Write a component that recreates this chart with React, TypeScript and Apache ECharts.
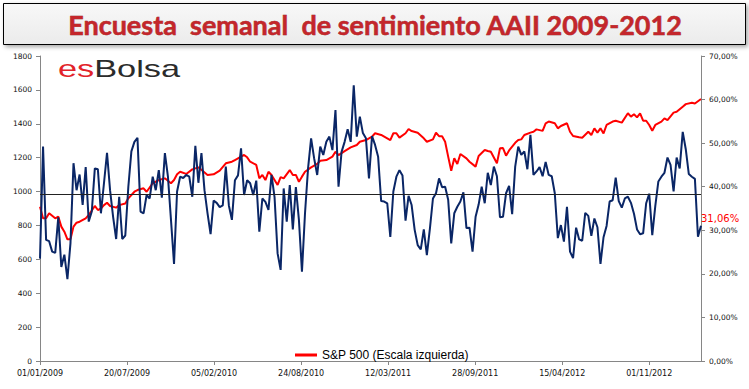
import React, { useEffect, useRef } from "react";
import * as echarts from "echarts";

// Weekly AAII bullish sentiment (%), one value per week starting 01/01/2009
const bullish: number[] = [
  23.5, 49.2, 27.8, 27.5, 25.1, 24.8, 33.0, 21.6, 24.4, 18.8,
  27.0, 45.4, 39.2, 42.8, 35.8, 44.5, 32.0, 34.3, 44.2, 44.0,
  33.9, 40.8, 47.8, 39.2, 33.1, 28.0, 37.7, 28.0, 28.8, 40.0,
  48.1, 50.3, 51.2, 34.3, 33.9, 38.1, 37.3, 42.3, 39.2, 43.8,
  37.5, 47.7, 42.3, 32.4, 22.3, 38.9, 42.3, 42.0, 42.7, 42.3,
  37.7, 49.4, 40.9, 47.7, 39.2, 33.9, 29.1, 36.8, 36.3, 35.3,
  35.7, 44.6, 35.7, 32.4, 41.5, 42.6, 48.8, 38.1, 41.5, 40.8,
  38.1, 41.4, 29.7, 37.3, 36.5, 34.7, 42.7, 37.6, 24.7, 20.9,
  39.6, 32.0, 40.4, 30.2, 39.9, 32.4, 20.5, 33.9, 44.2, 51.1,
  46.5, 42.7, 49.2, 47.3, 50.3, 51.5, 48.4, 57.6, 40.0, 48.0,
  50.3, 53.2, 50.3, 63.3, 51.5, 56.1, 52.3, 51.1, 41.9, 51.6,
  49.6, 46.9, 36.7, 36.6, 36.2, 28.5, 38.9, 42.3, 43.8, 42.6,
  32.2, 37.9, 35.8, 30.1, 26.6, 25.6, 30.2, 24.3, 30.4, 37.3,
  38.5, 41.9, 39.9, 40.0, 37.0, 27.0, 33.9, 35.4, 36.6, 38.7,
  30.5, 30.6, 25.1, 33.1, 35.9, 40.0, 36.2, 43.2, 40.4, 44.6,
  42.4, 33.0, 33.1, 38.5, 40.2, 33.7, 44.6, 49.2, 47.3, 48.1,
  44.0, 51.9, 42.7, 43.5, 44.5, 42.4, 45.7, 42.7, 42.4, 38.5,
  28.2, 31.2, 27.4, 35.4, 25.1, 23.6, 30.6, 27.9, 27.6, 34.0,
  33.3, 28.7, 32.7, 30.7, 22.3, 28.4, 31.0, 36.6, 36.9, 42.1,
  36.7, 35.2, 37.3, 37.7, 36.3, 33.8, 30.2, 29.1, 29.3, 36.2,
  38.4, 28.9, 35.6, 41.2, 42.3, 43.2, 46.7, 45.0, 38.9, 46.7,
  44.2, 52.6, 48.6, 42.9, 42.3, 41.8, 28.5, 31.06,
];

// S&P 500 readings: week number (since 01/01/2009) and index level
const spxWeeks: number[] = [
  0, 1, 2, 3, 5, 6, 7, 8, 9, 10, 11, 12, 13, 15, 16, 18, 19, 20, 21, 22,
  23, 25, 26, 28, 29, 31, 32, 34, 35, 37, 39, 41, 43, 44, 45, 46, 48, 50, 52, 55,
  57, 59, 61, 63, 64, 67, 68, 69, 71, 72, 73, 74, 75, 76, 78, 79, 80, 82, 83, 84,
  85, 86, 87, 89, 91, 92, 94, 96, 97, 98, 100, 102, 104, 105, 107, 109, 110, 112, 113, 115,
  116, 117, 118, 120, 121, 122, 124, 126, 127, 129, 130, 131, 132, 133, 134, 135, 136, 137, 138, 140,
  141, 143, 144, 146, 147, 148, 150, 151, 152, 153, 154, 156, 157, 158, 159, 161, 162, 163, 165, 166,
  167, 169, 170, 171, 173, 174, 175, 177, 178, 180, 181, 182, 183, 184, 185, 186, 188, 189, 191, 193,
  194, 195, 196, 197, 198, 199, 200, 201, 202, 204, 205, 206, 208, 209, 211, 212, 214, 215, 217,
];
const spxValues: number[] = [
  911, 842, 842, 872, 842, 852, 793, 763, 718, 718, 793, 816, 822, 842, 862, 915, 891, 900, 920, 934,
  915, 905, 920, 930, 960, 999, 1009, 1019, 999, 1049, 1068, 1078, 1049, 1068, 1102, 1117, 1104, 1131, 1143, 1098,
  1102, 1123, 1167, 1176, 1186, 1216, 1202, 1176, 1157, 1078, 1098, 1068, 1117, 1098, 1039, 1085, 1078, 1127, 1098, 1098,
  1058, 1088, 1117, 1143, 1163, 1182, 1186, 1206, 1235, 1215, 1239, 1261, 1275, 1294, 1304, 1324, 1344, 1334, 1324, 1304,
  1344, 1344, 1318, 1344, 1369, 1357, 1347, 1314, 1294, 1308, 1347, 1327, 1327, 1294, 1206, 1123, 1196, 1163, 1222, 1196,
  1176, 1147, 1210, 1245, 1239, 1235, 1167, 1255, 1257, 1212, 1243, 1288, 1304, 1308, 1334, 1348, 1353, 1367, 1358, 1403,
  1413, 1403, 1373, 1387, 1403, 1353, 1328, 1320, 1318, 1353, 1334, 1373, 1348, 1373, 1343, 1393, 1413, 1418, 1407, 1462,
  1442, 1456, 1438, 1462, 1418, 1418, 1393, 1359, 1393, 1413, 1432, 1422, 1466, 1471, 1501, 1516, 1524, 1520, 1546,
];

const bullAverage = 38.2;
const titleText = "Encuesta  semanal  de sentimiento AAII 2009-2012";
const spxName = "S&P 500 (Escala izquierda)";
const bullName = "Sentimiento alcista";
const startUTC = Date.UTC(2009, 0, 1);
const lastDay = (bullish.length - 1) * 7;

function fmtDate(days: number): string {
  const d = new Date(startUTC + days * 86400000);
  const dd = String(d.getUTCDate()).padStart(2, "0");
  const mm = String(d.getUTCMonth() + 1).padStart(2, "0");
  return `${dd}/${mm}/${d.getUTCFullYear()}`;
}

const pct = (v: number) => v.toFixed(2).replace(".", ",") + "%";

export default function App() {
  const ref = useRef<HTMLDivElement>(null);
  useEffect(() => {
    if (!ref.current) return;
    const chart = echarts.init(ref.current, undefined, { renderer: "svg" });
    const bullData = bullish.map((v, i) => [i * 7, v]);
    const spxData = spxWeeks.map((w, i) => [w * 7, spxValues[i]]);
    const axisColor = "#868686";
    const labelBase = { color: "#111", fontFamily: "DejaVu Sans", fontSize: 7.5 };
    chart.setOption({
      animation: false,
      backgroundColor: "#ffffff",
      grid: { left: 40, right: 48, top: 56, bottom: 28, containLabel: false },
      legend: {
        data: [{ name: spxName, icon: "rect" }],
        left: 290,
        top: 344,
        itemWidth: 22,
        itemHeight: 3,
        textStyle: { fontFamily: "Liberation Sans", fontSize: 12, color: "#000" },
      },
      xAxis: {
        type: "value",
        min: 0,
        max: lastDay,
        interval: 200,
        splitLine: { show: false },
        axisLine: { lineStyle: { color: axisColor } },
        axisTick: { show: true, length: 4, lineStyle: { color: axisColor } },
        axisLabel: {
          ...labelBase,
          fontSize: 8,
          margin: 8,
          showMaxLabel: false,
          formatter: (v: number) => fmtDate(v),
        },
      },
      yAxis: [
        {
          type: "value",
          min: 0,
          max: 1800,
          interval: 200,
          position: "left",
          splitLine: { show: false },
          axisLine: { show: true, lineStyle: { color: axisColor } },
          axisTick: { show: true, length: 4, lineStyle: { color: axisColor } },
          axisLabel: { ...labelBase, margin: 8, formatter: (v: number) => String(v) },
        },
        {
          type: "value",
          min: 0,
          max: 70,
          interval: 10,
          position: "right",
          splitLine: { show: false },
          axisLine: { show: true, lineStyle: { color: axisColor } },
          axisTick: { show: true, length: 4, lineStyle: { color: axisColor } },
          axisLabel: { ...labelBase, margin: 8, formatter: (v: number) => pct(v) },
        },
      ],
      series: [
        {
          name: spxName,
          type: "line",
          yAxisIndex: 0,
          data: spxData,
          showSymbol: false,
          symbol: "none",
          lineStyle: { color: "#ff0000", width: 2 },
          itemStyle: { color: "#ff0000" },
          z: 2,
        },
        {
          name: bullName,
          type: "line",
          yAxisIndex: 1,
          data: bullData,
          showSymbol: false,
          symbol: "none",
          lineStyle: { color: "#0a2666", width: 2 },
          itemStyle: { color: "#0a2666" },
          z: 3,
          endLabel: {
            show: true,
            distance: 0,
            offset: [0, -7],
            formatter: (p: any) => pct(p.value[1]),
            color: "#ff0000",
            fontSize: 10,
            fontFamily: "DejaVu Sans",
          },
          markLine: {
            silent: true,
            symbol: "none",
            label: { show: false },
            lineStyle: { color: "#222", width: 1, type: "solid" },
            data: [{ yAxis: bullAverage }],
          },
        },
      ],
      graphic: [
        {
          type: "rect",
          shape: { x: 3.5, y: 3.5, width: 742, height: 41 },
          style: {
            fill: new echarts.graphic.LinearGradient(0, 0, 0, 1, [
              { offset: 0, color: "#f8f8f8" },
              { offset: 1, color: "#ebebeb" },
            ]),
            stroke: "#000",
            lineWidth: 1,
            shadowBlur: 4,
            shadowOffsetX: 2,
            shadowOffsetY: 2,
            shadowColor: "rgba(0,0,0,0.35)",
          },
          z: 10,
        },
        {
          type: "text",
          x: 375,
          y: 24,
          style: {
            text: titleText,
            align: "center",
            verticalAlign: "middle",
            font: "bold 27px Lato",
            fill: "#c4262b",
            stroke: "#8a1212",
            lineWidth: 0.5,
            shadowBlur: 2,
            shadowOffsetX: 1.5,
            shadowOffsetY: 2,
            shadowColor: "rgba(0,0,0,0.45)",
          },
          z: 11,
        },
        {
          type: "text",
          x: 58,
          y: 80,
          scaleX: 1.43,
          style: {
            text: "{a|es}{b|Bolsa}",
            verticalAlign: "bottom",
            rich: {
              a: { fill: "#e2232a", font: "24px 'Liberation Sans'" },
              b: { fill: "#2b2b2b", font: "24px 'Liberation Sans'" },
            },
            font: "24px 'Liberation Sans'",
          },
          z: 11,
        },
      ],
    });
    return () => chart.dispose();
  }, []);
  return (
    <div
      ref={ref}
      style={{ position: "fixed", left: 0, top: 0, width: 749, height: 389, background: "#fff" }}
    />
  );
}
